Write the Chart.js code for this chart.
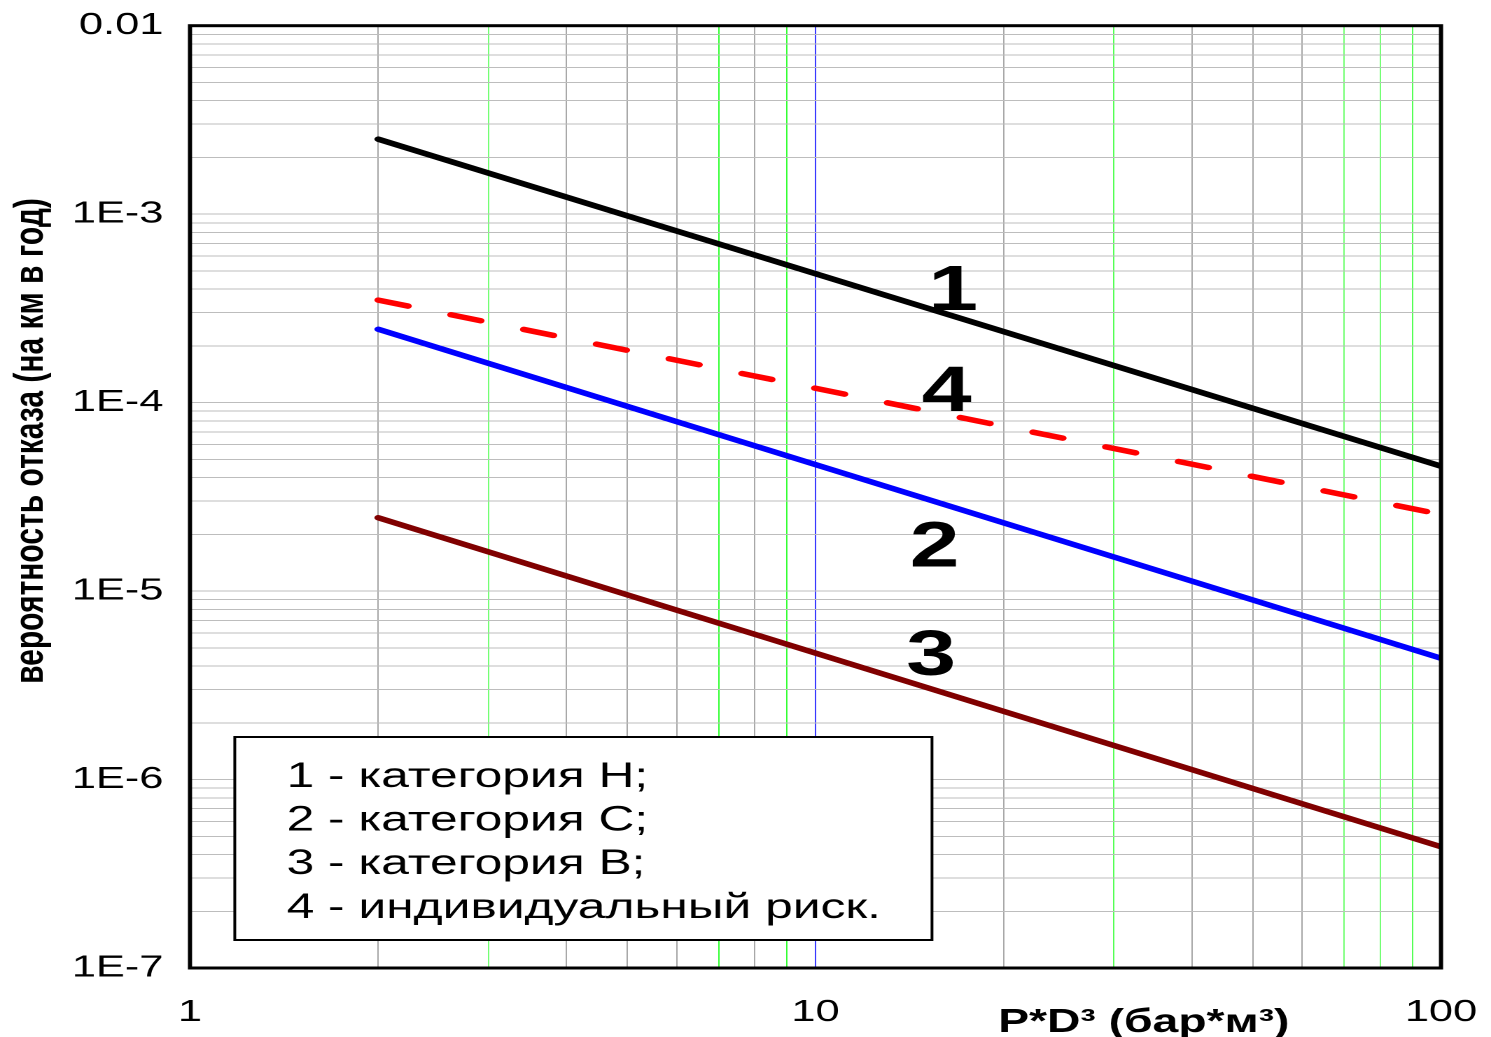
<!DOCTYPE html>
<html>
<head>
<meta charset="utf-8">
<script src="https://cdn.jsdelivr.net/npm/chart.js@4"></script>
<style>
  html, body { margin: 0; padding: 0; background: #fff; overflow: hidden; }
  #wrap { position: absolute; left: 0; top: 0; width: 1065px; height: 1037px;
          transform: scaleX(1.4); transform-origin: 0 0; }
</style>
</head>
<body>
<div id="wrap"><canvas id="c" width="1065" height="1037"></canvas></div>
<script>
// ---------------- data ----------------
const X_POINTS = [2, 100];                 // P*D^3 (бар*м3)
const CAT_H    = [2.5e-3, 4.6e-5];         // 1 - категория Н
const CAT_C    = [2.45e-4, 4.4e-6];        // 2 - категория С
const CAT_B    = [2.45e-5, 4.4e-7];        // 3 - категория В
const IND_RISK = [3.5e-4, 2.55e-5];        // 4 - индивидуальный риск

const X_TICK_VALUES = [1, 10, 100];
const X_TICK_LABELS = ['1', '10', '100'];
const Y_TICK_VALUES = [1e-7, 1e-6, 1e-5, 1e-4, 1e-3, 1e-2];
const Y_TICK_LABELS = ['1E-7', '1E-6', '1E-5', '1E-4', '1E-3', '0.01'];
const GRID_MANTISSAS = [1, 2, 3, 4, 5, 6, 7, 8, 9];

const X_TITLE = 'P*D³ (бар*м³)';
const Y_TITLE = 'вероятность отказа (на км в год)';
const LEGEND_LINES = ['1 - категория Н;', '2 - категория С;', '3 - категория В;', '4 - индивидуальный риск.'];

const CURVE_LABELS  = ['1', '4', '2', '3'];
const CURVE_LABEL_X = [16.6, 16.2, 15.5, 15.3];
const CURVE_LABEL_Y = [3.85e-4, 1.12e-4, 1.68e-5, 4.45e-6];

// ---------------- helpers ----------------
const FONT = "'Liberation Sans', Arial, sans-serif";
function pts(xs, ys) { return xs.map((x, i) => ({ x: x, y: ys[i] })); }
function logTicks(min, max) {
  const out = [];
  for (let e = Math.floor(Math.log10(min)); e <= Math.ceil(Math.log10(max)); e++) {
    for (const m of GRID_MANTISSAS) {
      const v = m * Math.pow(10, e);
      if (v >= min * 0.9999 && v <= max * 1.0001) out.push({ value: v });
    }
  }
  return out;
}
function labelFor(v, values, labels) {
  for (let i = 0; i < values.length; i++) {
    if (Math.abs(Math.log10(v) - Math.log10(values[i])) < 1e-6) return labels[i];
  }
  return '';
}
const X_GRID_COLORS = { 3: '#74ff74', 7: '#33ff33', 9: '#33ff33', 10: '#3a3aff',
                        30: '#55ff55', 70: '#74ff74', 80: '#74ff74', 90: '#55ff55' };
function xGridColor(v) {
  if (v === undefined) return '#aaaaaa';
  const k = Math.round(v);
  return X_GRID_COLORS[k] || '#a8a8a8';
}

// ---------------- decorations plugin ----------------
const deco = {
  id: 'deco',
  afterDatasetsDraw(chart) {
    const { ctx, chartArea: a, scales } = chart;
    ctx.save();
    // plot frame
    ctx.strokeStyle = '#000';
    ctx.lineWidth = 3;
    ctx.strokeRect(a.left, a.top, a.right - a.left, a.bottom - a.top);

    // curve number labels
    ctx.fillStyle = '#000';
    ctx.font = 'bold 64px ' + FONT;
    ctx.textAlign = 'center';
    ctx.textBaseline = 'middle';
    CURVE_LABELS.forEach((t, i) => {
      ctx.fillText(t, scales.x.getPixelForValue(CURVE_LABEL_X[i]), scales.y.getPixelForValue(CURVE_LABEL_Y[i]));
    });

    // legend box
    const bx = a.left + 32, bw = 498, bh = 203, by = a.bottom - 28 - bh;
    ctx.fillStyle = '#fff';
    ctx.fillRect(bx, by, bw, bh);
    ctx.strokeStyle = '#000';
    ctx.lineWidth = 2;
    ctx.strokeRect(bx, by, bw, bh);
    ctx.fillStyle = '#000';
    ctx.font = '35.5px ' + FONT;
    ctx.textAlign = 'left';
    ctx.textBaseline = 'alphabetic';
    LEGEND_LINES.forEach((t, i) => ctx.fillText(t, bx + 37, by + 50 + i * 43.6));

    // axis titles
    ctx.font = 'bold 33px ' + FONT;
    ctx.textAlign = 'left';
    ctx.textBaseline = 'alphabetic';
    ctx.fillText(X_TITLE, 713, a.bottom + 64);

    ctx.translate(22, 441);
    ctx.rotate(-Math.PI / 2);
    ctx.font = 'bold 30px ' + FONT;
    ctx.textAlign = 'center';
    ctx.textBaseline = 'middle';
    ctx.fillText(Y_TITLE, 0, 0);
    ctx.restore();
  }
};

// ---------------- chart ----------------
const lineBase = { pointRadius: 0, borderWidth: 5.5, tension: 0, fill: false, borderCapStyle: 'round' };
new Chart(document.getElementById('c'), {
  type: 'line',
  data: {
    datasets: [
      Object.assign({ label: '1 - категория Н', data: pts(X_POINTS, CAT_H), borderColor: '#000000' }, lineBase),
      Object.assign({ label: '2 - категория С', data: pts(X_POINTS, CAT_C), borderColor: '#0000ff' }, lineBase),
      Object.assign({ label: '3 - категория В', data: pts(X_POINTS, CAT_B), borderColor: '#800000' }, lineBase),
      Object.assign({ label: '4 - индивидуальный риск', data: pts(X_POINTS, IND_RISK), borderColor: '#ff0000',
                      borderDash: [22, 32] }, lineBase)
    ]
  },
  options: {
    responsive: false,
    devicePixelRatio: 2,
    animation: false,
    layout: { padding: { left: 0, right: 35.7, top: 25.7, bottom: 0 } },
    plugins: { legend: { display: false }, tooltip: { enabled: false } },
    scales: {
      x: {
        type: 'logarithmic', min: 1, max: 100,
        afterBuildTicks: (s) => { s.ticks = logTicks(1, 100); },
        afterFit: (s) => { s.height = 69; s.paddingLeft = 0; s.paddingRight = 0; },
        border: { display: false },
        grid: { drawTicks: false, lineWidth: 1, color: (c) => xGridColor(c.tick && c.tick.value) },
        ticks: {
          autoSkip: false, maxRotation: 0, padding: 26, color: '#000',
          font: { family: FONT, size: 31 },
          callback: (v) => labelFor(v, X_TICK_VALUES, X_TICK_LABELS)
        }
      },
      y: {
        type: 'logarithmic', min: 1e-7, max: 1e-2,
        afterBuildTicks: (s) => { s.ticks = logTicks(1e-7, 1e-2); },
        afterFit: (s) => { s.width = 135.7; s.paddingTop = 0; s.paddingBottom = 0; },
        border: { display: false },
        grid: { drawTicks: false, lineWidth: 1, color: '#bdbdbd' },
        ticks: {
          autoSkip: false, padding: 19, color: '#000',
          font: { family: FONT, size: 31 },
          callback: (v) => labelFor(v, Y_TICK_VALUES, Y_TICK_LABELS)
        }
      }
    }
  },
  plugins: [deco]
});
</script>
</body>
</html>
